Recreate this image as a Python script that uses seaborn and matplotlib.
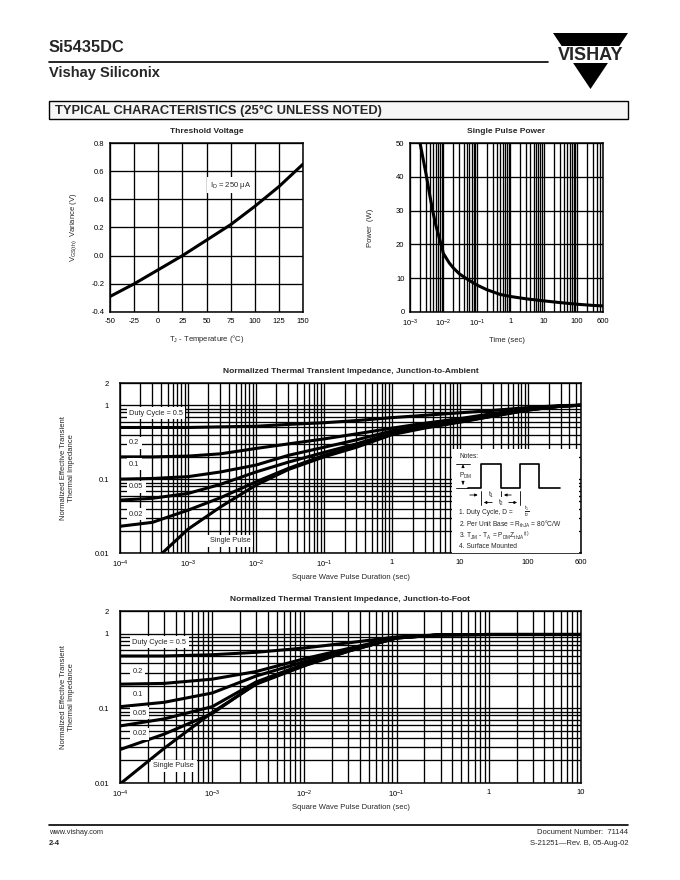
import matplotlib
matplotlib.use("Agg")
import matplotlib.pyplot as plt
import matplotlib.ticker as mticker
from matplotlib.lines import Line2D
from matplotlib.patches import Polygon, Rectangle, FancyArrowPatch
import seaborn as sns
import numpy as np

# ---- Threshold Voltage ----
temp_c = [-50, -25, 0, 25, 50, 75, 100, 125, 150]
vgs_var = [-0.29, -0.20, -0.10, 0.00, 0.11, 0.22, 0.35, 0.49, 0.65]

# ---- Single Pulse Power ----
pulse_t = [0.002, 0.0025, 0.003, 0.004, 0.005, 0.006, 0.008, 0.01, 0.015, 0.02, 0.03,
           0.05, 0.1, 0.2, 0.5, 1, 3, 10, 30, 100, 300, 600]
pulse_p = [50, 45, 41, 34, 29, 25.5, 21, 17.3, 14.5, 13.0, 11.3,
           9.8, 8.0, 6.6, 5.2, 4.6, 3.9, 3.3, 2.8, 2.3, 1.95, 1.8]

# ---- Junction-to-Ambient ----
amb_t = [1e-4, 3e-4, 1e-3, 3e-3, 1e-2, 3e-2, 0.1, 0.3, 1, 3, 10, 30, 100, 300, 600]
amb_d05 = [0.50, 0.50, 0.50, 0.51, 0.52, 0.55, 0.58, 0.62, 0.68, 0.73, 0.79, 0.85, 0.93, 0.99, 1.0]
amb_d02 = [0.20, 0.20, 0.205, 0.22, 0.26, 0.30, 0.35, 0.41, 0.49, 0.57, 0.66, 0.77, 0.90, 0.98, 1.0]
amb_d01 = [0.100, 0.102, 0.108, 0.125, 0.155, 0.21, 0.27, 0.34, 0.45, 0.53, 0.63, 0.74, 0.88, 0.97, 1.0]
amb_d005 = [0.052, 0.055, 0.064, 0.085, 0.125, 0.17, 0.23, 0.30, 0.42, 0.51, 0.61, 0.72, 0.87, 0.97, 1.0]
amb_d002 = [0.023, 0.026, 0.038, 0.056, 0.092, 0.14, 0.21, 0.28, 0.41, 0.50, 0.60, 0.71, 0.86, 0.97, 1.0]
amb_single = [0.0026, 0.0075, 0.021, 0.042, 0.083, 0.135, 0.20, 0.27, 0.40, 0.49, 0.59, 0.71, 0.86, 0.97, 1.0]

# ---- Junction-to-Foot ----
foot_t = [1e-4, 3e-4, 1e-3, 3e-3, 1e-2, 3e-2, 0.1, 0.3, 1, 3, 10]
foot_d05 = [0.50, 0.50, 0.52, 0.56, 0.64, 0.75, 0.90, 0.96, 0.97, 0.97, 0.97]
foot_d02 = [0.21, 0.215, 0.245, 0.31, 0.46, 0.63, 0.88, 0.96, 0.97, 0.97, 0.97]
foot_d01 = [0.105, 0.12, 0.16, 0.27, 0.42, 0.61, 0.88, 0.96, 0.97, 0.97, 0.97]
foot_d005 = [0.058, 0.072, 0.105, 0.225, 0.39, 0.59, 0.87, 0.96, 0.97, 0.97, 0.97]
foot_d002 = [0.028, 0.045, 0.085, 0.215, 0.375, 0.58, 0.87, 0.96, 0.97, 0.97, 0.97]
foot_single = [0.0097, 0.029, 0.088, 0.21, 0.37, 0.58, 0.87, 0.96, 0.97, 0.97, 0.97]

duty_labels = ["Duty Cycle = 0.5", "0.2", "0.1", "0.05", "0.02", "Single Pulse"]

sns.set_theme(style="white")
plt.rcParams['font.family'] = ['Liberation Sans', 'DejaVu Sans']
plt.rcParams['mathtext.default'] = 'regular'
plt.rcParams['axes.unicode_minus'] = False

W, H = 680, 880
fig = plt.figure(figsize=(6.8, 8.8), dpi=100)
fig.patch.set_facecolor('white')


def fx(x):
    return x / W


def fy(y):
    return 1 - y / H


def add_axes(x0, y0, x1, y1):
    return fig.add_axes([fx(x0), fy(y1), (x1 - x0) / W, (y1 - y0) / H])


def style(ax):
    ax.set_facecolor('white')
    for s in ax.spines.values():
        s.set_color('black')
        s.set_linewidth(1.1)
    ax.tick_params(which='both', length=0, labelsize=5.5, colors='black', pad=4)


def curve(ax, x, y):
    sns.lineplot(x=x, y=y, ax=ax, color='black', lw=2.2)


def log_xaxis(ax, ticks, labels):
    ax.set_xscale('log')
    ax.xaxis.set_major_locator(mticker.FixedLocator(ticks))
    ax.xaxis.set_major_formatter(mticker.FixedFormatter(labels))
    ax.xaxis.set_minor_locator(mticker.LogLocator(base=10, subs=np.arange(2, 10), numticks=20))
    ax.xaxis.set_minor_formatter(mticker.NullFormatter())


def log_yaxis(ax):
    ax.set_yscale('log')
    ax.set_ylim(0.01, 2)
    ax.yaxis.set_major_locator(mticker.FixedLocator([0.01, 0.1, 1, 2]))
    ax.yaxis.set_major_formatter(mticker.FixedFormatter(["0.01", "0.1", "1", "2"]))
    ax.yaxis.set_minor_locator(mticker.LogLocator(base=10, subs=np.arange(2, 10), numticks=20))
    ax.yaxis.set_minor_formatter(mticker.NullFormatter())


grid_kw = dict(color='black', lw=0.95)
box_kw = dict(fc='white', ec='none', pad=1.8)

# ---------------- Threshold Voltage ----------------
ax1 = add_axes(110, 143, 303, 312)
style(ax1)
curve(ax1, temp_c, vgs_var)
ax1.set_xlim(-50, 150)
ax1.set_ylim(-0.4, 0.8)
ax1.set_xticks(range(-50, 151, 25))
ax1.set_yticks(np.arange(-0.4, 0.81, 0.2))
ax1.yaxis.set_major_formatter(mticker.FormatStrFormatter('%.1f'))
ax1.grid(True, **grid_kw)
ax1.set_title("Threshold Voltage", fontsize=6, weight='bold', pad=7)
ax1.set_xlabel("T$_J$ - Temperature (°C)", fontsize=5.5, labelpad=6)
ax1.set_ylabel("V$_{GS(th)}$  Variance (V)", fontsize=5.5, labelpad=9)
ax1.text(75, 0.5, "I$_D$ = 250 μA", ha='center', va='center', fontsize=5.5, bbox=box_kw)

# ---------------- Single Pulse Power ----------------
ax2 = add_axes(410, 143, 603, 312)
style(ax2)
curve(ax2, pulse_t, pulse_p)
log_xaxis(ax2, [1e-3, 1e-2, 1e-1, 1, 10, 100, 600],
          ["$10^{-3}$", "$10^{-2}$", "$10^{-1}$", "1", "10", "100", "600"])
ax2.set_xlim(1e-3, 600)
ax2.set_ylim(0, 50)
ax2.set_yticks(range(0, 51, 10))
ax2.grid(True, which='major', axis='y', **grid_kw)
ax2.grid(True, which='both', axis='x', **grid_kw)
ax2.set_title("Single Pulse Power", fontsize=6, weight='bold', pad=7)
ax2.set_xlabel("Time (sec)", fontsize=5.5, labelpad=6)
ax2.set_ylabel("Power  (W)", fontsize=5.5, labelpad=16)

# ---------------- Junction-to-Ambient ----------------
ax3 = add_axes(120, 383, 581, 553)
style(ax3)
for ys in [amb_d05, amb_d02, amb_d01, amb_d005, amb_d002, amb_single]:
    curve(ax3, amb_t, ys)
log_xaxis(ax3, [1e-4, 1e-3, 1e-2, 1e-1, 1, 10, 100, 600],
          ["$10^{-4}$", "$10^{-3}$", "$10^{-2}$", "$10^{-1}$", "1", "10", "100", "600"])
ax3.set_xlim(1e-4, 600)
log_yaxis(ax3)
ax3.grid(True, which='both', **grid_kw)
ax3.tick_params(axis='y', pad=8)
ax3.set_title("Normalized Thermal Transient Impedance, Junction-to-Ambient",
              fontsize=6, weight='bold', pad=7)
ax3.set_xlabel("Square Wave Pulse Duration (sec)", fontsize=5.5, labelpad=3)
ax3.set_ylabel("Normalized Effective Transient\nThermal Impedance", fontsize=5.5, labelpad=14)
amb_lab_y = [0.78, 0.311, 0.160, 0.0789, 0.0337, 0.0147]
for lab, yv in zip(duty_labels, amb_lab_y):
    xv = 2.1e-3 if lab == "Single Pulse" else 1.36e-4
    ax3.text(xv, yv, lab, ha='left', va='center', fontsize=5.3, bbox=box_kw, zorder=5)

# ---------------- Junction-to-Foot ----------------
ax4 = add_axes(120, 611, 581, 783)
style(ax4)
for ys in [foot_d05, foot_d02, foot_d01, foot_d005, foot_d002, foot_single]:
    curve(ax4, foot_t, ys)
log_xaxis(ax4, [1e-4, 1e-3, 1e-2, 1e-1, 1, 10],
          ["$10^{-4}$", "$10^{-3}$", "$10^{-2}$", "$10^{-1}$", "1", "10"])
ax4.set_xlim(1e-4, 10)
log_yaxis(ax4)
ax4.grid(True, which='both', **grid_kw)
ax4.tick_params(axis='y', pad=8)
ax4.set_title("Normalized Thermal Transient Impedance, Junction-to-Foot",
              fontsize=6, weight='bold', pad=7)
ax4.set_xlabel("Square Wave Pulse Duration (sec)", fontsize=5.5, labelpad=3)
ax4.set_ylabel("Normalized Effective Transient\nThermal Impedance", fontsize=5.5, labelpad=14)
foot_lab_y = [0.762, 0.308, 0.154, 0.0855, 0.0453, 0.0169]
for lab, yv in zip(duty_labels, foot_lab_y):
    xv = 2.3e-4 if lab == "Single Pulse" else 1.36e-4
    ax4.text(xv, yv, lab, ha='left', va='center', fontsize=5.3, bbox=box_kw, zorder=5)


# ---------------- Notes box (figure pixels) ----------------
def fline(xs, ys, lw=1.0):
    fig.add_artist(Line2D([fx(v) for v in xs], [fy(v) for v in ys], color='black', lw=lw))


def farrow(x0, y0, x1, y1):
    fig.add_artist(FancyArrowPatch(
        (fx(x0), fy(y0)), (fx(x1), fy(y1)), transform=fig.transFigure,
        arrowstyle='-|>', mutation_scale=4, color='black', lw=0.6))


def ftext(x, y, s, size=4.8, **kw):
    fig.text(fx(x), fy(y), s, fontsize=size, va='center', **kw)


fig.add_artist(Rectangle((fx(452), fy(553)), (579 - 452) / W, (553 - 449) / H,
                         transform=fig.transFigure, fc='white', ec='none'))
ftext(459, 456, "Notes:")
fline([456, 470], [464, 464], lw=0.6)
fline([456, 468], [487.7, 487.7], lw=0.6)
farrow(463, 470, 463, 464.5)
farrow(463, 481, 463, 487.2)
ftext(466, 475.5, "P$_{DM}$", ha='center')
fline([468, 480.7, 480.7, 501, 501, 520, 520, 539.3, 539.3, 560],
      [487.7, 487.7, 464, 464, 487.7, 487.7, 464, 464, 487.7, 487.7], lw=1.2)
farrow(467, 495, 480.5, 495)
farrow(514, 495, 501.2, 495)
fline([480.7, 480.7], [491, 505], lw=0.6)
fline([501, 501], [491, 498], lw=0.6)
fline([520, 520], [491, 505], lw=0.6)
ftext(491, 495, "t$_1$", ha='center')
farrow(495, 502.5, 481, 502.5)
farrow(506, 502.5, 519.8, 502.5)
ftext(500.7, 502.5, "t$_2$", ha='center', bbox=dict(fc='white', ec='none', pad=0.5))
ftext(459, 512, "1. Duty Cycle, D =")
ftext(527, 511.5, r"$\frac{t_1}{t_2}$", size=5.2, ha='center')
ftext(459, 524, "2. Per Unit Base = R$_{thJA}$ = 80°C/W")
ftext(459, 535.5, "3. T$_{JM}$ - T$_A$ = P$_{DM}$Z$_{thJA}$$^{(t)}$")
ftext(459, 546, "4. Surface Mounted")

# ---------------- Page header ----------------
ftext(49, 48, "Si5435DC", size=11.8, weight='bold')
fline([49, 548], [62, 62], lw=1.2)
ftext(49, 73, "Vishay Siliconix", size=10.5, weight='bold')
fig.add_artist(Polygon([(fx(553), fy(33)), (fx(628), fy(33)), (fx(590.5), fy(89))],
                       closed=True, transform=fig.transFigure, fc='black', ec='none'))
fig.add_artist(Rectangle((fx(550), fy(63.5)), 80 / W, 17 / H,
                         transform=fig.transFigure, fc='white', ec='none'))
ftext(590.5, 55.5, "VISHAY", size=13, weight='bold', ha='center')

fig.add_artist(Rectangle((fx(49), fy(119)), 579 / W, 18 / H,
                         transform=fig.transFigure, fc='#f6f6f6', ec='black', lw=1.0))
ftext(55, 110.5, "TYPICAL CHARACTERISTICS (25°C UNLESS NOTED)", size=9.3, weight='heavy')

# ---------------- Footer ----------------
fline([49, 628], [825, 825], lw=1.2)
ftext(49, 832, "www.vishay.com", size=5.3)
ftext(49, 843, "2-4", size=5.5, weight='bold')
ftext(628, 832, "Document Number:  71144", size=5.5, ha='right')
ftext(628, 843, "S-21251—Rev. B, 05-Aug-02", size=5.5, ha='right')

plt.savefig("out.png", dpi=100, facecolor='white')
plt.close(fig)
